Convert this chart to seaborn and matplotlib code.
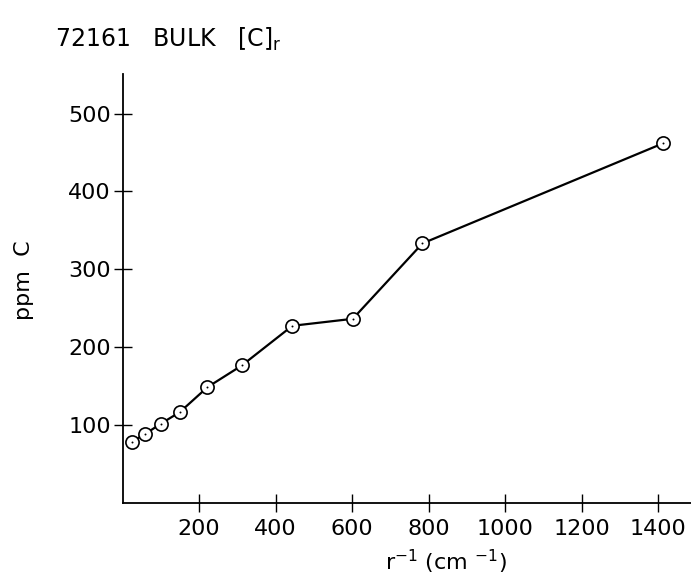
import matplotlib
matplotlib.use("Agg")
import matplotlib.pyplot as plt
import seaborn as sns
import pandas as pd

# Bulk carbon concentration vs inverse grain radius, sample 72161
inv_radius = [25, 60, 100, 150, 222, 312, 444, 602, 784, 1414]
ppm_carbon = [78, 88, 101, 116, 148, 176, 227, 236, 333, 462]
x_ticks = [200, 400, 600, 800, 1000, 1200, 1400]
y_ticks = [100, 200, 300, 400, 500]

df = pd.DataFrame({"inv_r": inv_radius, "ppm": ppm_carbon})

sns.set_style("ticks")
plt.rcParams["font.family"] = ["DejaVu Sans"]
plt.rcParams["text.color"] = "black"
plt.rcParams["axes.labelcolor"] = "black"

fig = plt.figure(figsize=(6.91, 5.78), dpi=100)
ax = fig.add_axes([122.5 / 691, 75 / 578, (691 - 122.5) / 691, 429 / 578])

sns.lineplot(data=df, x="inv_r", y="ppm", ax=ax, color="black", linewidth=1.6,
             marker="o", markersize=9.5, markerfacecolor="white",
             markeredgecolor="black", markeredgewidth=1.2)
# centre dot inside each open circle
sns.scatterplot(data=df, x="inv_r", y="ppm", ax=ax, color="black", s=2,
                linewidth=0, zorder=5)

ax.set_xlim(0, 1486)
ax.set_ylim(-1, 551)
ax.set_xticks(x_ticks)
ax.set_yticks(y_ticks)
ax.set_xticklabels([str(v) for v in x_ticks])
ax.set_yticklabels([str(v) for v in y_ticks])
ax.tick_params(axis="both", direction="inout", length=13, width=1.0,
               labelsize=16, colors="black")
ax.tick_params(axis="x", pad=5)
ax.tick_params(axis="y", pad=2)
sns.despine(ax=ax)
for s in ("left", "bottom"):
    ax.spines[s].set_linewidth(1.3)
    ax.spines[s].set_color("black")

ax.set_xlabel("r$^{-1}$ (cm $^{-1}$)", fontsize=16, color="black")
ax.xaxis.set_label_coords(0.569, -0.105)
ax.set_ylabel("ppm  C", fontsize=16, color="black")
ax.yaxis.set_label_coords(-0.156, 0.52)

fig.text(55 / 691, 1 - 47 / 578, "72161   BULK   [C]$_\\mathrm{r}$",
         fontsize=17, color="black", ha="left", va="baseline")

fig.savefig("out.png", dpi=100)
